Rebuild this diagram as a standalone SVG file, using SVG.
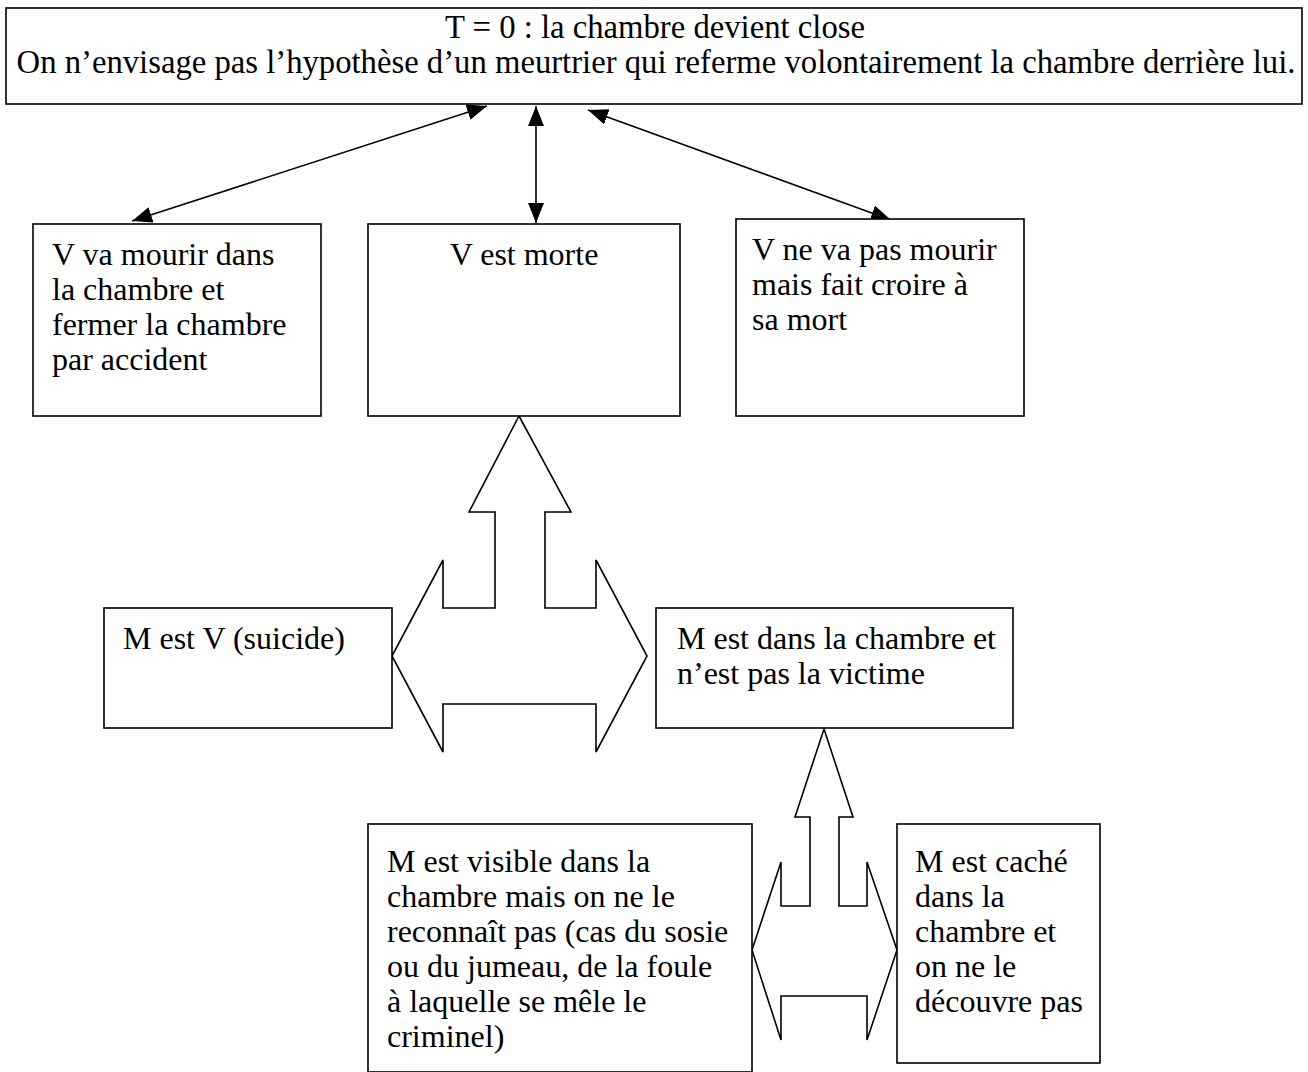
<svg xmlns="http://www.w3.org/2000/svg" width="1308" height="1072" viewBox="0 0 1308 1072">
<style>
.box{fill:#fff;stroke:#000;stroke-width:1.6}
.blk{fill:#fff;stroke:#000;stroke-width:1.6;stroke-linejoin:miter}
.t{font-family:"Liberation Serif",serif;font-size:32px;fill:#000}
.big{font-size:32.7px}
.c{text-anchor:middle}
.ln{stroke:#000;stroke-width:1.6;fill:none;marker-start:url(#ah);marker-end:url(#ah)}
</style>
<defs>
<marker id="ah" viewBox="0 0 20 16" refX="20" refY="8" markerWidth="20" markerHeight="16" markerUnits="userSpaceOnUse" orient="auto-start-reverse">
<path d="M0,0 L20,8 L0,16 z" fill="#000"/>
</marker>
</defs>
<rect width="1308" height="1072" fill="#fff"/>
<g id="connectors">
<line class="ln" x1="487" y1="106" x2="132" y2="221"/>
<line class="ln" x1="536" y1="106" x2="536" y2="223"/>
<line class="ln" x1="588" y1="110" x2="891" y2="220"/>
<polygon id="blockarrow1" class="blk" points="519,416 571,512 545,512 545,608 596,608 596,560 647,656 596,752 596,704 443,704 443,752 392,656 443,560 443,608 495,608 495,512 469,512"/>
<polygon id="blockarrow2" class="blk" points="824,729 853,817 839,817 839,906 867,906 867,862 897,950 867,1040 867,996 781,996 781,1040 752,950 781,862 781,906 810,906 810,817 795,817"/>
</g>
<g id="top">
<rect class="box" x="6" y="8" width="1296" height="96"/>
<text class="t big c" x="655" y="38">T = 0 : la chambre devient close</text>
<text class="t big c" x="656" y="73">On n’envisage pas l’hypothèse d’un meurtrier qui referme volontairement la chambre derrière lui.</text>
</g>
<g id="nodeA">
<rect class="box" x="33" y="224" width="288" height="192"/>
<text class="t" x="52" y="265">V va mourir dans</text>
<text class="t" x="52" y="300">la chambre et</text>
<text class="t" x="52" y="335">fermer la chambre</text>
<text class="t" x="52" y="370">par accident</text>
</g>
<g id="nodeB">
<rect class="box" x="368" y="224" width="312" height="192"/>
<text class="t c" x="524" y="265">V est morte</text>
</g>
<g id="nodeC">
<rect class="box" x="736" y="219" width="288" height="197"/>
<text class="t" x="752" y="260">V ne va pas mourir</text>
<text class="t" x="752" y="295">mais fait croire à</text>
<text class="t" x="752" y="330">sa mort</text>
</g>
<g id="nodeD">
<rect class="box" x="104" y="608" width="288" height="120"/>
<text class="t" x="123" y="649">M est V (suicide)</text>
</g>
<g id="nodeE">
<rect class="box" x="656" y="608" width="357" height="120"/>
<text class="t" x="677" y="649">M est dans la chambre et</text>
<text class="t" x="677" y="684">n’est pas la victime</text>
</g>
<g id="nodeF">
<rect class="box" x="368" y="824" width="384" height="248"/>
<text class="t" x="387" y="872">M est visible dans la</text>
<text class="t" x="387" y="907">chambre mais on ne le</text>
<text class="t" x="387" y="942">reconnaît pas (cas du sosie</text>
<text class="t" x="387" y="977">ou du jumeau, de la foule</text>
<text class="t" x="387" y="1012">à laquelle se mêle le</text>
<text class="t" x="387" y="1047">criminel)</text>
</g>
<g id="nodeG">
<rect class="box" x="897" y="824" width="203" height="239"/>
<text class="t" x="915" y="872">M est caché</text>
<text class="t" x="915" y="907">dans la</text>
<text class="t" x="915" y="942">chambre et</text>
<text class="t" x="915" y="977">on ne le</text>
<text class="t" x="915" y="1012">découvre pas</text>
</g>
</svg>
